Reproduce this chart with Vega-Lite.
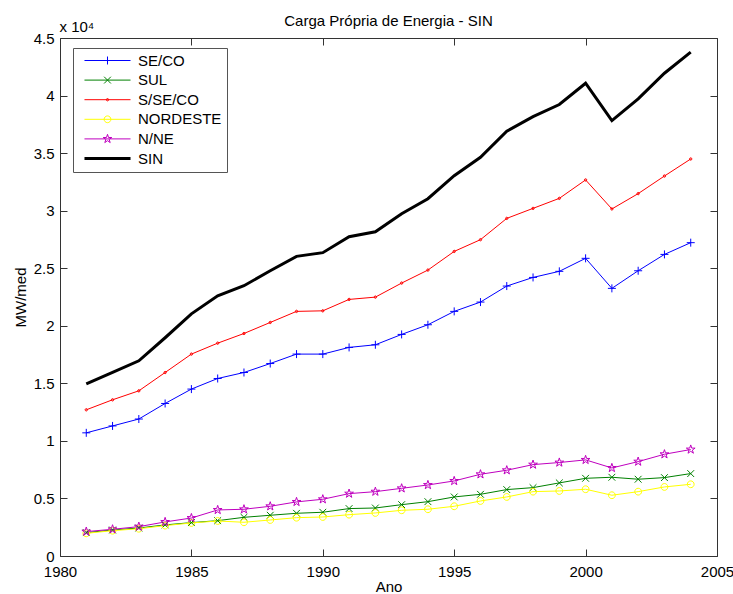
{
  "$schema": "https://vega.github.io/schema/vega-lite/v6.json",
  "width": 657,
  "height": 518,
  "autosize": {"type": "none"},
  "padding": {"left": 60, "top": 38, "right": 16, "bottom": 38},
  "title": {"text": "Carga Própria de Energia - SIN", "fontSize": 15, "fontWeight": "normal", "color": "#000", "anchor": "middle", "baseline": "alphabetic", "offset": -7, "dy": 15, "font": "Liberation Sans"},
  "data": {"values": [
    {"ano":1981,"serie":"SE/CO","valor":10700},{"ano":1982,"serie":"SE/CO","valor":11300},{"ano":1983,"serie":"SE/CO","valor":11900},{"ano":1984,"serie":"SE/CO","valor":13250},{"ano":1985,"serie":"SE/CO","valor":14500},{"ano":1986,"serie":"SE/CO","valor":15420},{"ano":1987,"serie":"SE/CO","valor":15940},{"ano":1988,"serie":"SE/CO","valor":16720},{"ano":1989,"serie":"SE/CO","valor":17540},{"ano":1990,"serie":"SE/CO","valor":17540},{"ano":1991,"serie":"SE/CO","valor":18120},{"ano":1992,"serie":"SE/CO","valor":18350},{"ano":1993,"serie":"SE/CO","valor":19250},{"ano":1994,"serie":"SE/CO","valor":20090},{"ano":1995,"serie":"SE/CO","valor":21250},{"ano":1996,"serie":"SE/CO","valor":22060},{"ano":1997,"serie":"SE/CO","valor":23450},{"ano":1998,"serie":"SE/CO","valor":24200},{"ano":1999,"serie":"SE/CO","valor":24730},{"ano":2000,"serie":"SE/CO","valor":25860},{"ano":2001,"serie":"SE/CO","valor":23250},{"ano":2002,"serie":"SE/CO","valor":24780},{"ano":2003,"serie":"SE/CO","valor":26200},{"ano":2004,"serie":"SE/CO","valor":27220},
    {"ano":1981,"serie":"SUL","valor":2030},{"ano":1982,"serie":"SUL","valor":2260},{"ano":1983,"serie":"SUL","valor":2430},{"ano":1984,"serie":"SUL","valor":2700},{"ano":1985,"serie":"SUL","valor":2900},{"ano":1986,"serie":"SUL","valor":3070},{"ano":1987,"serie":"SUL","valor":3360},{"ano":1988,"serie":"SUL","valor":3540},{"ano":1989,"serie":"SUL","valor":3710},{"ano":1990,"serie":"SUL","valor":3800},{"ano":1991,"serie":"SUL","valor":4120},{"ano":1992,"serie":"SUL","valor":4170},{"ano":1993,"serie":"SUL","valor":4460},{"ano":1994,"serie":"SUL","valor":4720},{"ano":1995,"serie":"SUL","valor":5130},{"ano":1996,"serie":"SUL","valor":5360},{"ano":1997,"serie":"SUL","valor":5770},{"ano":1998,"serie":"SUL","valor":5940},{"ano":1999,"serie":"SUL","valor":6350},{"ano":2000,"serie":"SUL","valor":6750},{"ano":2001,"serie":"SUL","valor":6840},{"ano":2002,"serie":"SUL","valor":6670},{"ano":2003,"serie":"SUL","valor":6810},{"ano":2004,"serie":"SUL","valor":7160},
    {"ano":1981,"serie":"S/SE/CO","valor":12700},{"ano":1982,"serie":"S/SE/CO","valor":13570},{"ano":1983,"serie":"S/SE/CO","valor":14350},{"ano":1984,"serie":"S/SE/CO","valor":15940},{"ano":1985,"serie":"S/SE/CO","valor":17540},{"ano":1986,"serie":"S/SE/CO","valor":18490},{"ano":1987,"serie":"S/SE/CO","valor":19330},{"ano":1988,"serie":"S/SE/CO","valor":20290},{"ano":1989,"serie":"S/SE/CO","valor":21250},{"ano":1990,"serie":"S/SE/CO","valor":21300},{"ano":1991,"serie":"S/SE/CO","valor":22290},{"ano":1992,"serie":"S/SE/CO","valor":22490},{"ano":1993,"serie":"S/SE/CO","valor":23710},{"ano":1994,"serie":"S/SE/CO","valor":24840},{"ano":1995,"serie":"S/SE/CO","valor":26460},{"ano":1996,"serie":"S/SE/CO","valor":27480},{"ano":1997,"serie":"S/SE/CO","valor":29330},{"ano":1998,"serie":"S/SE/CO","valor":30200},{"ano":1999,"serie":"S/SE/CO","valor":31070},{"ano":2000,"serie":"S/SE/CO","valor":32670},{"ano":2001,"serie":"S/SE/CO","valor":30150},{"ano":2002,"serie":"S/SE/CO","valor":31480},{"ano":2003,"serie":"S/SE/CO","valor":33010},{"ano":2004,"serie":"S/SE/CO","valor":34490},
    {"ano":1981,"serie":"NORDESTE","valor":1970},{"ano":1982,"serie":"NORDESTE","valor":2200},{"ano":1983,"serie":"NORDESTE","valor":2370},{"ano":1984,"serie":"NORDESTE","valor":2640},{"ano":1985,"serie":"NORDESTE","valor":2870},{"ano":1986,"serie":"NORDESTE","valor":3040},{"ano":1987,"serie":"NORDESTE","valor":2930},{"ano":1988,"serie":"NORDESTE","valor":3130},{"ano":1989,"serie":"NORDESTE","valor":3330},{"ano":1990,"serie":"NORDESTE","valor":3390},{"ano":1991,"serie":"NORDESTE","valor":3590},{"ano":1992,"serie":"NORDESTE","valor":3740},{"ano":1993,"serie":"NORDESTE","valor":3970},{"ano":1994,"serie":"NORDESTE","valor":4060},{"ano":1995,"serie":"NORDESTE","valor":4320},{"ano":1996,"serie":"NORDESTE","valor":4780},{"ano":1997,"serie":"NORDESTE","valor":5130},{"ano":1998,"serie":"NORDESTE","valor":5590},{"ano":1999,"serie":"NORDESTE","valor":5650},{"ano":2000,"serie":"NORDESTE","valor":5800},{"ano":2001,"serie":"NORDESTE","valor":5280},{"ano":2002,"serie":"NORDESTE","valor":5590},{"ano":2003,"serie":"NORDESTE","valor":6000},{"ano":2004,"serie":"NORDESTE","valor":6230},
    {"ano":1981,"serie":"N/NE","valor":2120},{"ano":1982,"serie":"N/NE","valor":2320},{"ano":1983,"serie":"N/NE","valor":2550},{"ano":1984,"serie":"N/NE","valor":2960},{"ano":1985,"serie":"N/NE","valor":3300},{"ano":1986,"serie":"N/NE","valor":4000},{"ano":1987,"serie":"N/NE","valor":4060},{"ano":1988,"serie":"N/NE","valor":4320},{"ano":1989,"serie":"N/NE","valor":4700},{"ano":1990,"serie":"N/NE","valor":4930},{"ano":1991,"serie":"N/NE","valor":5420},{"ano":1992,"serie":"N/NE","valor":5590},{"ano":1993,"serie":"N/NE","valor":5880},{"ano":1994,"serie":"N/NE","valor":6170},{"ano":1995,"serie":"N/NE","valor":6520},{"ano":1996,"serie":"N/NE","valor":7100},{"ano":1997,"serie":"N/NE","valor":7450},{"ano":1998,"serie":"N/NE","valor":7940},{"ano":1999,"serie":"N/NE","valor":8120},{"ano":2000,"serie":"N/NE","valor":8350},{"ano":2001,"serie":"N/NE","valor":7650},{"ano":2002,"serie":"N/NE","valor":8200},{"ano":2003,"serie":"N/NE","valor":8840},{"ano":2004,"serie":"N/NE","valor":9250},
    {"ano":1981,"serie":"SIN","valor":14960},{"ano":1982,"serie":"SIN","valor":15950},{"ano":1983,"serie":"SIN","valor":16960},{"ano":1984,"serie":"SIN","valor":18960},{"ano":1985,"serie":"SIN","valor":21040},{"ano":1986,"serie":"SIN","valor":22600},{"ano":1987,"serie":"SIN","valor":23480},{"ano":1988,"serie":"SIN","valor":24780},{"ano":1989,"serie":"SIN","valor":26030},{"ano":1990,"serie":"SIN","valor":26350},{"ano":1991,"serie":"SIN","valor":27740},{"ano":1992,"serie":"SIN","valor":28170},{"ano":1993,"serie":"SIN","valor":29740},{"ano":1994,"serie":"SIN","valor":31040},{"ano":1995,"serie":"SIN","valor":33040},{"ano":1996,"serie":"SIN","valor":34640},{"ano":1997,"serie":"SIN","valor":36900},{"ano":1998,"serie":"SIN","valor":38170},{"ano":1999,"serie":"SIN","valor":39220},{"ano":2000,"serie":"SIN","valor":41070},{"ano":2001,"serie":"SIN","valor":37830},{"ano":2002,"serie":"SIN","valor":39710},{"ano":2003,"serie":"SIN","valor":41940},{"ano":2004,"serie":"SIN","valor":43770}
  ]},
  "resolve": {"axis": {"x": "independent", "y": "independent"}},
  "layer": [
    {
      "transform": [{"filter": "datum.serie !== 'SIN'"}],
      "mark": {"type": "line", "strokeWidth": 1},
      "encoding": {
        "x": {"field": "ano", "type": "quantitative", "scale": {"domain": [1980, 2005], "nice": false, "zero": false},
              "axis": {"orient": "bottom", "values": [1980, 1985, 1990, 1995, 2000, 2005], "format": "d", "title": "Ano", "labelPadding": 8, "titlePadding": 0}},
        "y": {"field": "valor", "type": "quantitative", "scale": {"domain": [0, 45000], "nice": false},
              "axis": {"orient": "left", "values": [0, 5000, 10000, 15000, 20000, 25000, 30000, 35000, 40000, 45000], "labelExpr": "'' + datum.value / 10000", "title": "MW/med", "labelPadding": 6, "titlePadding": 5}},
        "color": {"field": "serie", "type": "nominal",
                  "scale": {"domain": ["SE/CO", "SUL", "S/SE/CO", "NORDESTE", "N/NE", "SIN"], "range": ["#0000ff", "#008000", "#ff0000", "#ffff00", "#bf00bf", "#000000"]},
                  "legend": {"orient": "none", "legendX": 13, "legendY": 10, "title": null, "padding": 5, "strokeColor": "#555", "fillColor": "#ffffff",
                             "symbolSize": 225, "symbolOffset": 22, "labelOffset": 23, "rowPadding": 3.6, "symbolStrokeWidth": 1,
                             "labelFontSize": 15, "labelFont": "Liberation Sans", "labelColor": "#000",
                             "encode": {"symbols": {"update": {
                               "shape": {"signal": "datum.value === 'SE/CO' ? 'M-3.07,0L3.07,0M0,-0.53L0,0.53' : datum.value === 'SUL' ? 'M-3.07,0L3.07,0M-0.45,-0.45L0.45,0.45M-0.45,0.45L0.45,-0.45' : datum.value === 'S/SE/CO' ? 'M-3.07,0L3.07,0M-0.16,0A0.16,0.16 0 1,1 0.16,0A0.16,0.16 0 1,1 -0.16,0Z' : datum.value === 'NORDESTE' ? 'M-3.07,0L3.07,0M-0.45,0A0.45,0.45 0 1,1 0.45,0A0.45,0.45 0 1,1 -0.45,0Z' : datum.value === 'N/NE' ? 'M-3.07,0L3.07,0M0,-0.61L0.137,-0.188L0.58,-0.188L0.221,0.072L0.359,0.493L0,0.233L-0.359,0.493L-0.221,0.072L-0.58,-0.188L-0.137,-0.188Z' : 'M-3.07,0L3.07,0'"},
                               "strokeWidth": {"signal": "datum.value === 'SIN' ? 3 : 1"},
                               "fill": {"value": "transparent"}
                             }}}}
        }
      }
    },
    {
      "transform": [{"filter": "datum.serie !== 'SIN'"}],
      "mark": {"type": "point", "filled": false, "size": 64, "strokeWidth": 1, "opacity": 1},
      "encoding": {
        "x": {"field": "ano", "type": "quantitative", "axis": null},
        "y": {"field": "valor", "type": "quantitative", "axis": null},
        "color": {"field": "serie", "type": "nominal", "legend": null},
        "shape": {"field": "serie", "type": "nominal", "legend": null,
                  "scale": {"domain": ["SE/CO", "SUL", "S/SE/CO", "NORDESTE", "N/NE"],
                            "range": ["M-1,0L1,0M0,-1L0,1", "M-0.85,-0.85L0.85,0.85M-0.85,0.85L0.85,-0.85", "M-0.3,0A0.3,0.3 0 1,1 0.3,0A0.3,0.3 0 1,1 -0.3,0Z", "M-0.85,0A0.85,0.85 0 1,1 0.85,0A0.85,0.85 0 1,1 -0.85,0Z", "M0,-1.15L0.259,-0.355L1.094,-0.355L0.417,0.136L0.676,0.93L0,0.439L-0.676,0.93L-0.417,0.136L-1.094,-0.355L-0.259,-0.355Z"]}}
      }
    },
    {
      "transform": [{"filter": "datum.serie === 'SIN'"}],
      "mark": {"type": "line", "strokeWidth": 3},
      "encoding": {
        "x": {"field": "ano", "type": "quantitative",
              "axis": {"orient": "top", "values": [1980, 1985, 1990, 1995, 2000, 2005], "labels": false, "title": "x 10⁴", "titleAnchor": "start", "titleAlign": "left", "titleX": -1, "titleY": -14, "titleBaseline": "alphabetic"}},
        "y": {"field": "valor", "type": "quantitative",
              "axis": {"orient": "right", "values": [0, 5000, 10000, 15000, 20000, 25000, 30000, 35000, 40000, 45000], "labels": false, "title": null}},
        "color": {"field": "serie", "type": "nominal", "legend": null}
      }
    }
  ],
  "config": {
    "font": "Liberation Sans",
    "view": {"stroke": "#333", "strokeWidth": 1},
    "axis": {"domain": false, "grid": false, "ticks": true, "tickColor": "#333", "tickSize": 7, "tickWidth": 1, "offset": -7, "labelFlush": false,
             "labelFontSize": 15, "labelFont": "Liberation Sans", "labelColor": "#000",
             "titleFontSize": 15, "titleFont": "Liberation Sans", "titleFontWeight": "normal", "titleColor": "#000"}
  }
}
